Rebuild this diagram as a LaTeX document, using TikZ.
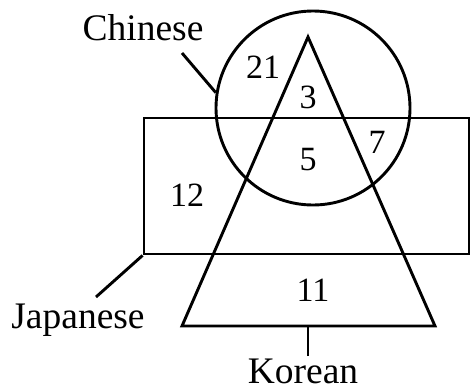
\documentclass[tikz,border=0pt]{standalone}
\usepackage{fontspec}
\setmainfont{Liberation Serif}
\begin{document}
\begin{tikzpicture}[x=1pt, y=-1pt, line width=2.9pt,
  every node/.style={font=\fontsize{34}{40}\selectfont},
  setname/.style={font=\fontsize{37.5}{44}\selectfont, inner sep=1pt}]
\useasboundingbox (0,0) rectangle (470,391);

% Define the sets
\node[draw, circle, minimum size=194pt, inner sep=0pt] (CH) at (313,108) {};
\node[draw, rectangle, minimum width=325pt, minimum height=136pt, inner sep=0pt] (JP) at (306.5,186) {};
\coordinate (KA) at (308,37);
\coordinate (KL) at (182,326);
\coordinate (KR) at (435,326);
\coordinate (KB) at (308,326);
\draw (KA) -- (KL) -- (KR) -- cycle;

% Define the labels with leaders
\node[setname] (CHL) at (143,28) {Chinese};
\node[setname] (JPL) at (78,320) {Japanese};
\node[setname] (KOL) at (303,371) {Korean};
\coordinate (CHT) at (182,53);
\coordinate (JPT) at (96,297);
\coordinate (KOT) at (308,356);
\draw (CHT) -- (CH.171);
\draw (JPT) -- (JP.south west);
\draw (KOT) -- (KB);

% Counts in each region
\node (N21) at (263,67) {21};
\node (N3) at (308,97) {3};
\node (N5) at (308,160) {5};
\node (N7) at (377,142) {7};
\node (N12) at (187,195) {12};
\node (N11) at (313,290) {11};

\end{tikzpicture}
\end{document}
